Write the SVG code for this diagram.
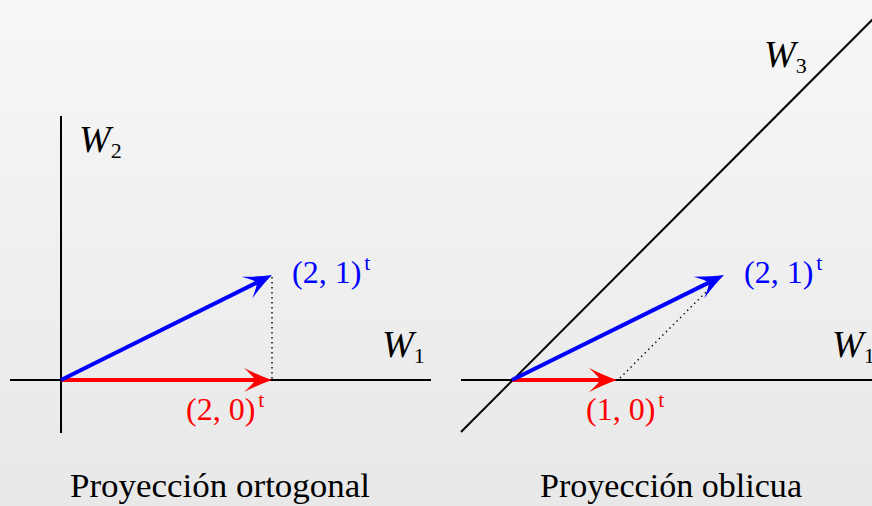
<svg xmlns="http://www.w3.org/2000/svg" width="872" height="506" viewBox="0 0 872 506">
<defs>
<linearGradient id="bg" x1="0" y1="0" x2="0" y2="1">
<stop offset="0" stop-color="#f7f7f7"/>
<stop offset="1" stop-color="#e8e8e8"/>
</linearGradient>
<marker id="ahRed" viewBox="-12 -12 32 24" markerWidth="32" markerHeight="24" refX="0" refY="0" orient="auto" markerUnits="userSpaceOnUse" overflow="visible">
<path d="M17,0 Q5,-4 -11,-12 Q-1,-3 0,0 Q-1,3 -11,12 Q5,4 17,0 Z" fill="#ff0000"/>
</marker>
<marker id="ahBlue" viewBox="-12 -12 32 24" markerWidth="32" markerHeight="24" refX="0" refY="0" orient="auto" markerUnits="userSpaceOnUse" overflow="visible">
<path d="M17,0 Q5,-4 -11,-12 Q-1,-3 0,0 Q-1,3 -11,12 Q5,4 17,0 Z" fill="#0000ff"/>
</marker>
</defs>
<style>
.axis{stroke:#000;stroke-width:2;fill:none}
.dot{stroke:#000;stroke-width:1.4;stroke-dasharray:1.4 3.6;fill:none}
.red{stroke:#ff0000;stroke-width:4;fill:none;marker-end:url(#ahRed)}
.blue{stroke:#0000ff;stroke-width:4;fill:none;marker-end:url(#ahBlue)}
.math{font-family:"Liberation Serif","DejaVu Serif",serif;font-size:32px}
.cal{font-family:"Liberation Serif","DejaVu Serif",serif;font-size:38px;font-style:italic;fill:#000}
.sub{font-family:"Liberation Serif","DejaVu Serif",serif;font-size:22px;font-style:normal}
.sup{font-size:22px}
.cap{font-family:"Liberation Serif","DejaVu Serif",serif;font-size:34px;fill:#000}
</style>
<rect x="0" y="0" width="872" height="506" fill="url(#bg)"/>

<g id="axes">
<line class="axis" x1="61" y1="116" x2="61" y2="433"/>
<line class="axis" x1="10" y1="380" x2="431" y2="380"/>
<line class="axis" x1="461" y1="380" x2="872" y2="380"/>
<line class="axis" x1="461" y1="432" x2="873" y2="19"/>
</g>

<g id="connectors">
<line class="dot" x1="272" y1="277" x2="272" y2="380"/>
<line class="dot" x1="620" y1="378" x2="719" y2="279"/>
<line class="red" x1="61" y1="380" x2="255" y2="380"/>
<line class="blue" x1="61" y1="380" x2="256.8" y2="282.6"/>
<line class="red" x1="512" y1="380" x2="600" y2="380"/>
<line class="blue" x1="512" y1="380" x2="708.8" y2="282.6"/>
</g>

<g id="label-W2"><text class="cal" x="79" y="152">W<tspan class="sub" dy="6">2</tspan></text></g>
<g id="label-W1-left"><text class="cal" x="382" y="357">W<tspan class="sub" dy="6">1</tspan></text></g>
<g id="label-W3"><text class="cal" x="764" y="67">W<tspan class="sub" dy="6">3</tspan></text></g>
<g id="label-W1-right"><text class="cal" x="832" y="357">W<tspan class="sub" dy="6">1</tspan></text></g>

<g id="label-21-left"><text class="math" x="292" y="283" fill="#0000ff">(2, 1)<tspan class="sup" dx="3" dy="-13">t</tspan></text></g>
<g id="label-20"><text class="math" x="186" y="420" fill="#ff0000">(2, 0)<tspan class="sup" dx="3" dy="-13">t</tspan></text></g>
<g id="label-21-right"><text class="math" x="744" y="283" fill="#0000ff">(2, 1)<tspan class="sup" dx="3" dy="-13">t</tspan></text></g>
<g id="label-10"><text class="math" x="586" y="420" fill="#ff0000">(1, 0)<tspan class="sup" dx="3" dy="-13">t</tspan></text></g>

<g id="caption-left"><text class="cap" x="70" y="497" textLength="300" lengthAdjust="spacingAndGlyphs">Proyección ortogonal</text></g>
<g id="caption-right"><text class="cap" x="540" y="497" textLength="262" lengthAdjust="spacingAndGlyphs">Proyección oblicua</text></g>
</svg>
